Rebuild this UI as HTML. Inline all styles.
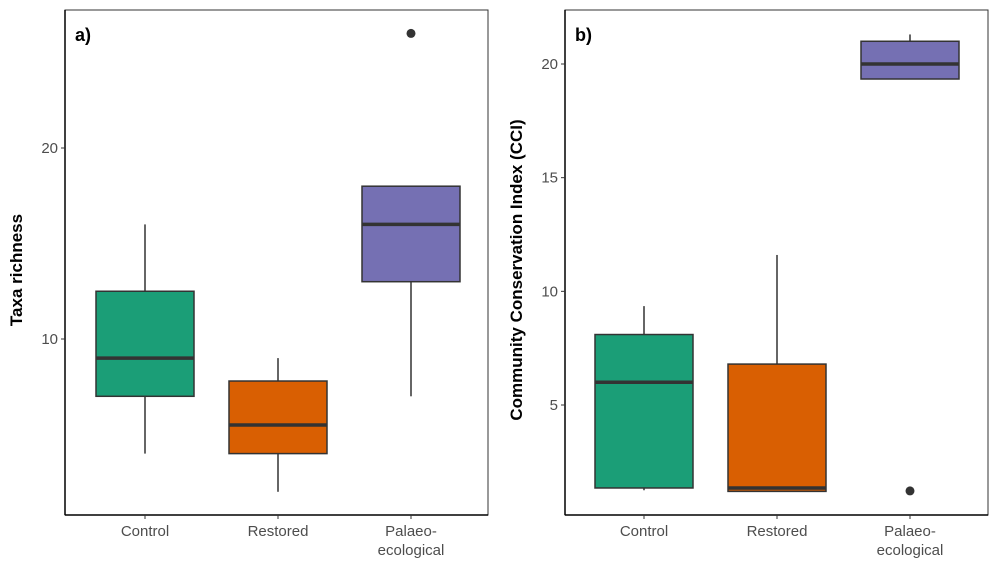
<!DOCTYPE html>
<html><head><meta charset="utf-8"><style>
body{margin:0;background:#fff;}
svg text{font-family:"Liberation Sans",Arial,sans-serif;}
</style></head><body>
<svg id="c" width="1000" height="571"></svg>
<script>
const categories=["Control","Restored","Palaeo-ecological"];
const richMin=[4,2,7],richQ1=[7,4,13],richMed=[9,5.5,16],richQ3=[12.5,7.8,18],richMax=[16,9,18];
const richOut=[[],[],[26]];
const cciMin=[1.25,1.2,19.34],cciQ1=[1.35,1.2,19.34],cciMed=[6,1.35,20],cciQ3=[8.1,6.8,21],cciMax=[9.35,11.6,21.3];
const cciOut=[[],[],[1.22]];
const richTicks=[10,20],cciTicks=[5,10,15,20];
const colors=["#1b9e77","#d95f02","#7570b3"];
const NS="http://www.w3.org/2000/svg";
const svg=document.getElementById('c');
function mk(t,a,p){const e=document.createElementNS(NS,t);for(const k in a)e.setAttribute(k,a[k]);(p||svg).appendChild(e);return e;}
function panel(o){
 const g=mk('g',{});
 
 
 const y=v=>o.y0+(v-o.v0)*(o.y1-o.y0)/(o.v1-o.v0);
 const x=i=>o.xc0+i*o.step;
 mk('rect',{x:o.L,y:10,width:o.R-o.L,height:505,fill:'none',stroke:'#333','stroke-width':1},g);
 mk('line',{x1:o.L,y1:10,x2:o.L,y2:515,stroke:'#000','stroke-width':1.5},g);
 mk('line',{x1:o.L,y1:515,x2:o.R,y2:515,stroke:'#000','stroke-width':1.5},g);
 o.ticks.forEach(t=>{const yy=y(t);
  mk('line',{x1:o.L-4,y1:yy,x2:o.L,y2:yy,stroke:'#333'},g);
  const tx=mk('text',{x:o.L-7,y:yy+5,'text-anchor':'end','font-size':15,fill:'#4d4d4d'},g);tx.textContent=t;
  });
 categories.forEach((c,i)=>{const xx=x(i),hw=49;
  mk('line',{x1:xx,y1:515,x2:xx,y2:519,stroke:'#333'},g);
  const t=mk('text',{x:xx,y:536,'text-anchor':'middle','font-size':15,fill:'#4d4d4d'},g);
  
  if(i==2){t.innerHTML='<tspan x="'+xx+'">Palaeo-</tspan><tspan x="'+xx+'" dy="19">ecological</tspan>';}else t.textContent=c;
  const bg=mk('g',{},g);
  
  mk('line',{x1:xx,y1:y(o.mx[i]),x2:xx,y2:y(o.q3[i]),stroke:'#333','stroke-width':1.5},bg);
  mk('line',{x1:xx,y1:y(o.q1[i]),x2:xx,y2:y(o.mn[i]),stroke:'#333','stroke-width':1.5},bg);
  mk('rect',{x:xx-hw,y:y(o.q3[i]),width:2*hw,height:Math.max(1,y(o.q1[i])-y(o.q3[i])),fill:colors[i],stroke:'#333','stroke-width':1.5},bg);
  mk('line',{x1:xx-hw,y1:y(o.md[i]),x2:xx+hw,y2:y(o.md[i]),stroke:'#333','stroke-width':3.5},bg);
  o.out[i].forEach(v=>{const p=mk('circle',{cx:xx,cy:y(v),r:4.5,fill:'#333'},bg);
   });
 });
 const lb=mk('text',{x:o.L+10,y:41,'font-size':18,'font-weight':'bold'},g);lb.textContent=o.tag;
 
 const yt=mk('text',{transform:`translate(${o.L-43},${(o.ytc)}) rotate(-90)`,'text-anchor':'middle','font-size':17,'font-weight':'bold'},g);
 yt.textContent=o.title;
}
panel({name:'panel-a-richness',L:65,R:488,xc0:145,step:133,v0:10,v1:20,y0:339,y1:148,ticks:richTicks,
 mn:richMin,q1:richQ1,md:richMed,q3:richQ3,mx:richMax,out:richOut,tag:'a)',title:'Taxa richness',ytc:270});
panel({name:'panel-b-cci',L:565,R:988,xc0:644,step:133,v0:5,v1:20,y0:405,y1:64,ticks:cciTicks,
 mn:cciMin,q1:cciQ1,md:cciMed,q3:cciQ3,mx:cciMax,out:cciOut,tag:'b)',title:'Community Conservation Index (CCI)',ytc:270});
</script>
</body></html>
